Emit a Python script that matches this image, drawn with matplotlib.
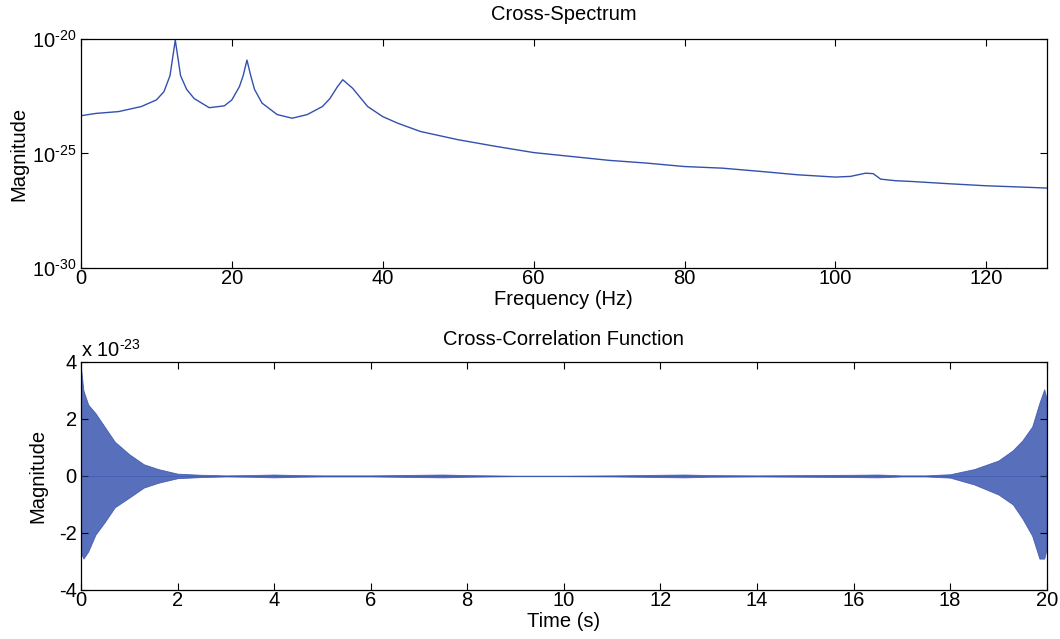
import numpy as np
import matplotlib
matplotlib.use("Agg")
import matplotlib.pyplot as plt

# --- spectrum (log10 of magnitude) ---
freq_hz = [0, 2, 5, 8, 10, 11, 11.8, 12.5, 13.2, 14, 15, 17, 19, 20, 21, 21.5, 22, 22.5, 23, 24,
           26, 28, 30, 32, 33, 34, 34.7, 36, 38, 40, 42, 45, 50, 55, 60, 65, 70, 75, 80, 85,
           90, 95, 100, 102, 104, 105, 106, 108, 110, 115, 120, 125, 128]
log_mag = [-23.35, -23.25, -23.17, -22.95, -22.66, -22.3, -21.6, -20.05, -21.6, -22.2, -22.6,
           -23.0, -22.92, -22.66, -22.08, -21.6, -20.92, -21.6, -22.2, -22.8, -23.3, -23.46,
           -23.3, -22.95, -22.6, -22.08, -21.78, -22.15, -22.95, -23.39, -23.68, -24.04, -24.4,
           -24.69, -24.96, -25.13, -25.3, -25.42, -25.57, -25.64, -25.78, -25.93, -26.03, -26.0,
           -25.86, -25.88, -26.12, -26.19, -26.22, -26.32, -26.41, -26.47, -26.51]

# --- cross-correlation envelope (units of 1e-23) ---
t_s = [0, 0.05, 0.15, 0.3, 0.5, 0.7, 1.0, 1.3, 1.6, 2.0, 2.5, 3.0, 3.5, 4.0, 4.5, 5.0,
       6.0, 7.0, 7.5, 8.0, 9.0, 10.0, 11.0, 12.0, 12.5, 13.0, 14.0, 15.0, 16.0, 16.5,
       17.0, 17.5, 18.0, 18.5, 19.0, 19.3, 19.5, 19.7, 19.85, 19.95, 20.0]
env_hi = [3.8, 3.0, 2.5, 2.2, 1.7, 1.2, 0.76, 0.41, 0.24, 0.08, 0.04, 0.02, 0.03, 0.05, 0.03,
          0.02, 0.02, 0.04, 0.05, 0.03, 0.01, 0.01, 0.02, 0.04, 0.05, 0.03, 0.02, 0.03, 0.04,
          0.05, 0.02, 0.02, 0.06, 0.24, 0.54, 0.9, 1.25, 1.73, 2.56, 3.04, 2.7]
env_lo = [-2.7, -2.9, -2.65, -2.06, -1.6, -1.1, -0.76, -0.41, -0.24, -0.08, -0.04, -0.02, -0.03,
          -0.05, -0.03, -0.02, -0.02, -0.04, -0.05, -0.03, -0.01, -0.01, -0.02, -0.04, -0.05,
          -0.03, -0.02, -0.03, -0.04, -0.05, -0.02, -0.02, -0.06, -0.3, -0.65, -1.0, -1.5,
          -2.1, -2.9, -2.9, -2.56]

blue = "#3350ad"
fs = 14.5
plt.rcParams['font.family'] = ['Liberation Sans', 'DejaVu Sans']
plt.rcParams['axes.unicode_minus'] = False
plt.rcParams['mathtext.fontset'] = 'custom'
plt.rcParams['mathtext.rm'] = 'Liberation Sans'
plt.rcParams['mathtext.it'] = 'Liberation Sans'
plt.rcParams['mathtext.bf'] = 'Liberation Sans'

fig = plt.figure(figsize=(10.6, 6.39), dpi=100)
ax1 = fig.add_axes([0.0764, 0.5806, 0.911, 0.3584])
ax2 = fig.add_axes([0.0764, 0.0767, 0.911, 0.357])

# top: cross-spectrum
ax1.semilogy(freq_hz, 10.0 ** np.array(log_mag), color=blue, lw=1.0)
ax1.set_xlim(0, 128)
ax1.set_ylim(1e-30, 1e-20)
ax1.set_yticks([1e-30, 1e-25, 1e-20])
ax1.set_yticklabels([r'$10^{\text{-30}}$', r'$10^{\text{-25}}$', r'$10^{\text{-20}}$'])
ax1.yaxis.set_minor_locator(matplotlib.ticker.NullLocator())
ax1.set_xticks(range(0, 121, 20))
ax1.set_title("Cross-Spectrum", fontsize=fs, pad=14)
ax1.set_xlabel("Frequency (Hz)", fontsize=fs, labelpad=1)
ax1.set_ylabel("Magnitude", fontsize=fs, labelpad=3)

# bottom: cross-correlation
ax2.fill_between(t_s, env_lo, env_hi, color=blue, alpha=0.82, lw=0.6)
ax2.plot([0, 20], [0, 0], color=blue, lw=0.6, alpha=0.6)
ax2.set_xlim(0, 20)
ax2.set_ylim(-4, 4)
ax2.set_yticks([-4, -2, 0, 2, 4])
ax2.set_xticks(range(0, 21, 2))
ax2.set_title("Cross-Correlation Function", fontsize=fs, pad=12)
ax2.set_xlabel("Time (s)", fontsize=fs, labelpad=1)
ax2.set_ylabel("Magnitude", fontsize=fs, labelpad=8)
ax2.text(0.0, 1.005, r'x 10$^{\text{-23}}$', transform=ax2.transAxes, fontsize=fs,
         ha='left', va='bottom')

for ax in (ax1, ax2):
    ax.tick_params(direction='in', top=True, right=True, length=5, width=0.8,
                   labelsize=fs)
    ax.tick_params(axis='x', pad=1)
    ax.tick_params(axis='y', pad=3)
    for s in ax.spines.values():
        s.set_linewidth(0.9)

fig.savefig("out.png", dpi=100)
